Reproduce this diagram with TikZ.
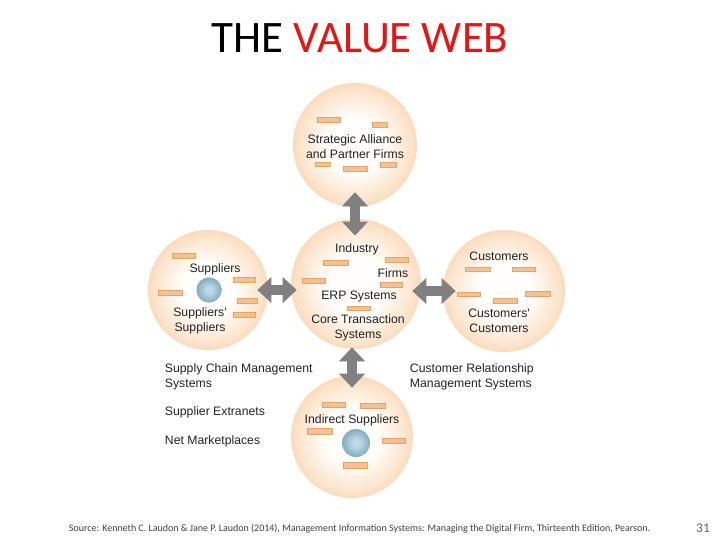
\documentclass[tikz,border=0pt]{standalone}
\usepackage{fontspec}
\setmainfont{Carlito}
\newfontfamily\arialf{Liberation Sans}
\usetikzlibrary{arrows.meta}
\definecolor{webwhite}{RGB}{255,254,252}
\definecolor{webmid}{RGB}{252,226,200}
\definecolor{webedge}{RGB}{248,196,148}
\definecolor{webrim}{RGB}{242,178,120}
\definecolor{barfill}{RGB}{246,192,144}
\definecolor{baredge}{RGB}{232,164,102}
\definecolor{balllight}{RGB}{190,218,230}
\definecolor{ballmid}{RGB}{124,166,190}
\definecolor{balldark}{RGB}{84,124,150}
\definecolor{arrowgray}{RGB}{128,128,128}
\definecolor{labelgray}{RGB}{35,35,35}
\definecolor{titlered}{RGB}{230,20,20}
\pgfdeclareradialshading{orangeweb}{\pgfpointorigin}{color(0bp)=(webwhite); color(11bp)=(webwhite); color(23bp)=(webmid); color(31bp)=(webedge); color(35bp)=(webrim); color(50bp)=(webrim)}
\pgfdeclareradialshading{blueweb}{\pgfpointorigin}{color(0bp)=(balllight); color(6bp)=(balllight); color(27bp)=(ballmid); color(35bp)=(balldark); color(50bp)=(balldark)}

\begin{document}
\begin{tikzpicture}[x=0.025cm, y=-0.025cm,
    every node/.style={font=\arialf\fontsize{8.7}{10.5}\selectfont, text=labelgray},
    web/.style={circle, shade, shading=orangeweb, minimum size=#1, inner sep=0pt},
    hub/.style={circle, shade, shading=blueweb, minimum size=#1, inner sep=0pt},
    bar/.style={fill=barfill, draw=baredge, line width=0.3pt},
    biarrow/.style={draw=arrowgray, line width=7pt,
      {Triangle[width=18pt,length=10pt]}-{Triangle[width=18pt,length=10pt]}}]
  \useasboundingbox (0,0) rectangle (720,540);
  % Title
  \node[font=\fontsize{32}{38}\selectfont, text=black] (title) at (360,38) {THE \textcolor{titlered}{VALUE WEB}};
  % Circles of the web
  \node[web=3.1cm] (allies) at (355,145) {};
  \node[web=3.0cm] (supply) at (208,290) {};
  \node[web=3.25cm] (core) at (356,284) {};
  \node[web=3.05cm] (demand) at (504,291) {};
  \node[web=3.05cm] (indirect) at (352,437) {};
  % Small bars inside the circles
  \foreach \xa/\ya/\xb/\yb in {317/117/340/122, 372/122/387/127, 315/162/330/166, 343/166/367/171, 380/162/396/167,
      172/253/195/258, 233/277/255/282, 158/290/182/295, 237/298/257/303, 233/312/255/317,
      323/260/348/265, 385/257/408/262, 302/278/325/283, 380/282/402/287, 347/306/370/310,
      465/267/490/271, 512/267/535/271, 457/292/480/296, 493/298/517/303, 525/291/550/296,
      322/402/345/407, 360/403/385/408, 307/428/332/434, 382/438/405/443, 343/462/367/468}
    \draw[bar] (\xa,\ya) rectangle (\xb,\yb);
  % Blue spheres
  \node[hub=0.63cm] (supball) at (209,290) {};
  \node[hub=0.7cm] (indball) at (356,443) {};
  % Arrows between the circles
  \draw[biarrow, shorten <=-10.7pt, shorten >=-12pt] (allies.south) -- (allies.south |- core.north);
  \draw[biarrow, shorten <=-7.8pt, shorten >=-4.3pt] (supply.east) -- (supply.east -| core.west);
  \draw[biarrow, shorten <=-6.4pt, shorten >=-9.2pt] (core.east |- demand.west) -- (demand.west);
  \draw[biarrow, shorten <=-1.4pt, shorten >=-8.5pt] (indirect.north |- core.south) -- (indirect.north);
  % Labels in the circles
  \node[align=center] (allieslbl) at (355,147) {Strategic Alliance\\and Partner Firms};
  \node (suplbl) at (215,269) {Suppliers};
  \node[align=center] (supsuplbl) at (200,321) {Suppliers'\\Suppliers};
  \node (industrylbl) at (357,249) {Industry};
  \node (firmslbl) at (393,273) {Firms};
  \node (erplbl) at (359,296) {ERP Systems};
  \node[align=center] (corelbl) at (358,327.5) {Core Transaction\\Systems};
  \node (custlbl) at (499,256) {Customers};
  \node[align=center] (custcustlbl) at (499,321) {Customers'\\Customers};
  \node (indlbl) at (352,420) {Indirect Suppliers};
  % Side notes
  \node[anchor=west, align=left] (scmlbl) at (160,376.5) {Supply Chain Management\\Systems};
  \node[anchor=west] (extralbl) at (160,412) {Supplier Extranets};
  \node[anchor=west] (netlbl) at (160,441) {Net Marketplaces};
  \node[anchor=west, align=left] (crmlbl) at (405,376.5) {Customer Relationship\\Management Systems};
  % Source line and page number
  \node[anchor=west, font=\fontsize{7.1}{8.5}\selectfont, text=black!75] (source) at (64,529) {Source: Kenneth C. Laudon \& Jane P. Laudon (2014), Management Information Systems: Managing the Digital Firm, Thirteenth Edition, Pearson.};
  \node[font=\fontsize{9.5}{11}\selectfont, text=black!60] (pagenum) at (703,528) {31};
\end{tikzpicture}
\end{document}
